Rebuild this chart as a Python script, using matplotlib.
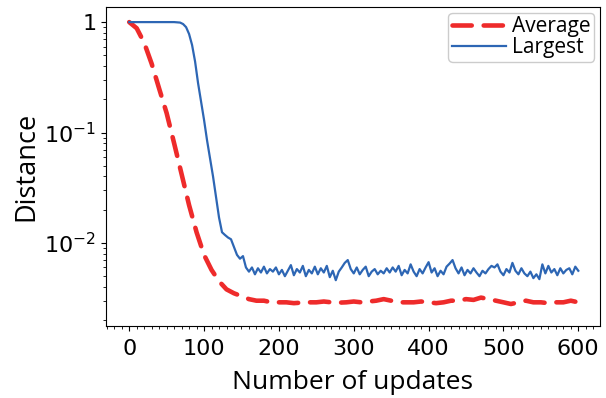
import numpy as np
import matplotlib
matplotlib.use("Agg")
import matplotlib.pyplot as plt
from matplotlib.ticker import FixedLocator, FuncFormatter, MultipleLocator

# ---- data ----
avg_x = list(range(0, 601, 10))
avg_y = [1.0, 0.88, 0.65, 0.42, 0.25, 0.15, 0.08, 0.042, 0.022, 0.0125,
         0.0078, 0.0057, 0.0045, 0.0038, 0.0035, 0.0033, 0.0031, 0.0030, 0.0030, 0.0029,
         0.0029, 0.0029, 0.00285, 0.00288, 0.0029, 0.0029, 0.00295, 0.0029, 0.00288, 0.0029,
         0.00295, 0.0029, 0.00295, 0.0030, 0.0031, 0.0030, 0.0029, 0.0029, 0.0029, 0.00295,
         0.0029, 0.00285, 0.0029, 0.0030, 0.0030, 0.0031, 0.00305, 0.0032, 0.0031, 0.0030,
         0.0029, 0.0028, 0.0029, 0.0030, 0.0029, 0.0029, 0.00285, 0.0029, 0.0029, 0.0030,
         0.0029]

large_x = list(range(0, 601, 4))
large_y = [1.0, 1.0, 1.0, 1.0, 1.0, 1.0, 1.0, 1.0, 1.0, 1.0,
           1.0, 1.0, 1.0, 1.0, 1.0, 1.0,
           0.995, 0.99, 0.96, 0.90, 0.78, 0.62, 0.44, 0.28, 0.19, 0.13,
           0.085, 0.058, 0.040, 0.026, 0.017, 0.0125, 0.0118, 0.0112, 0.0108, 0.0092,
           0.0078, 0.0072, 0.0076, 0.0060, 0.0055,
           # 164 .. 600
           0.0060, 0.0052, 0.0059, 0.0054, 0.0061, 0.0053, 0.0058, 0.0055, 0.0060, 0.0052,
           0.0057, 0.0050, 0.0056, 0.0063, 0.0051, 0.0058, 0.0054, 0.0062, 0.0050, 0.0057,
           0.0053, 0.0061, 0.0052, 0.0059, 0.0054, 0.0062, 0.0049, 0.0056, 0.0046, 0.0055,
           0.0060, 0.0066, 0.0070, 0.0058, 0.0053, 0.0060, 0.0052, 0.0057, 0.0061, 0.0050,
           0.0055, 0.0058, 0.0052, 0.0056, 0.0053, 0.0059, 0.0054, 0.0060, 0.0055, 0.0062,
           0.0051, 0.0057, 0.0053, 0.0064, 0.0055, 0.0050, 0.0058, 0.0053, 0.0060, 0.0067,
           0.0054, 0.0059, 0.0050, 0.0056, 0.0052, 0.0061, 0.0065, 0.0070, 0.0059, 0.0053,
           0.0060, 0.0051, 0.0057, 0.0053, 0.0059, 0.0054, 0.0050, 0.0056, 0.0053, 0.0058,
           0.0062, 0.0060, 0.0064, 0.0055, 0.0051, 0.0058, 0.0054, 0.0066, 0.0056, 0.0052,
           0.0059, 0.0053, 0.0050, 0.0055, 0.0048, 0.0052, 0.0047, 0.0064, 0.0053, 0.0062,
           0.0054, 0.0058, 0.0051, 0.0059, 0.0053, 0.0057, 0.0059, 0.0052, 0.0061, 0.0056]

x_ticks = [0, 100, 200, 300, 400, 500, 600]
y_ticks = [1, 0.1, 0.01]
y_tick_labels = ["1", r"$10^{-1}$", r"$10^{-2}$"]

n = min(len(large_x), len(large_y))
large_x, large_y = large_x[:n], large_y[:n]

# ---- plot ----
label_font = ["Open Sans", "DejaVu Sans"]
fig = plt.figure(figsize=(6.06, 3.98), dpi=100)
ax = fig.add_axes([106/606, 1-326/398, (600-106)/606, (326-7)/398])

ax.plot(avg_x, avg_y, color="#ee2b2b", lw=3.3, linestyle=(0, (4.2, 2.6)),
        dash_capstyle="round", label="Average")
ax.plot(large_x, large_y, color="#2d66b4", lw=1.6, label="Largest")

ax.set_yscale("log")
ax.set_xlim(-31, 629)
ax.set_ylim(1.77e-3, 1.37)
ax.xaxis.set_major_locator(FixedLocator(x_ticks))
ax.xaxis.set_minor_locator(MultipleLocator(10))
ax.yaxis.set_major_locator(FixedLocator(y_ticks))
ax.yaxis.set_major_formatter(FuncFormatter(
    lambda v, p: dict(zip(y_ticks, y_tick_labels)).get(round(v, 6), "")))
ax.tick_params(axis="both", which="major", labelsize=16, length=3.5, width=0.8)
ax.tick_params(axis="x", which="major", pad=6)
ax.tick_params(axis="both", which="minor", length=2, width=0.6)

ax.set_xlabel("Number of updates", fontsize=19, family=label_font, labelpad=8)
ax.set_ylabel("Distance", fontsize=19.5, family=label_font, labelpad=3)

ax.legend(loc="upper right", prop={"family": label_font, "size": 15},
          handlelength=2.6, labelspacing=0.0, borderaxespad=0.3,
          borderpad=0.15, handletextpad=0.3, framealpha=1)

fig.savefig("out.png", dpi=100)
